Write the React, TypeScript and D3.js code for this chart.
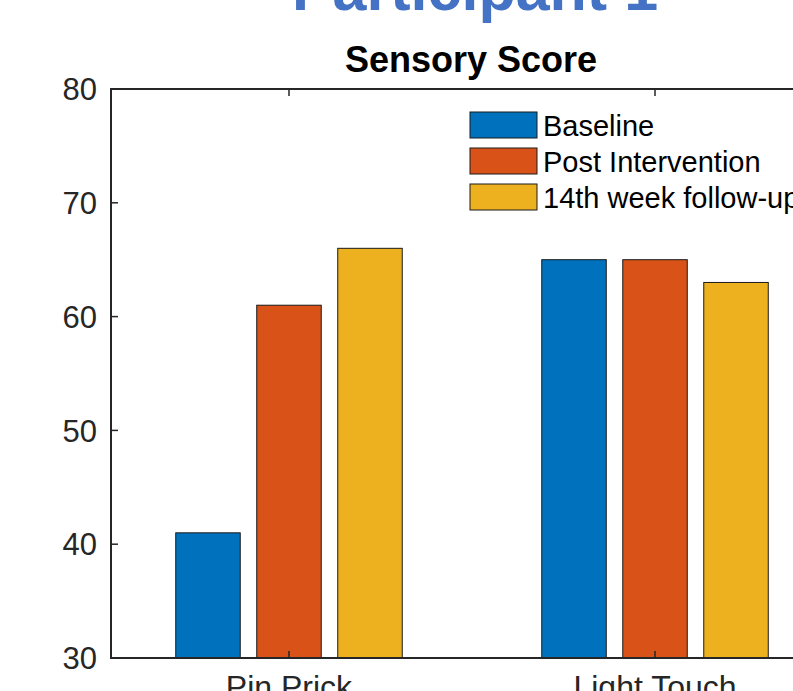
import React from "react";
import * as d3 from "d3";

// Sensory score per test, one array per assessment
const categories = ["Pin Prick", "Light Touch"];
const seriesNames = ["Baseline", "Post Intervention", "14th week follow-up"];
const baseline = [41, 65];
const postIntervention = [61, 65];
const followUp = [66, 63];
const yTicks = [30, 40, 50, 60, 70, 80];
const seriesColors = ["#0072BD", "#D95319", "#EDB120"];

const W = 793;
const H = 691;
const FONT = "'Liberation Sans', Arial, Helvetica, sans-serif";
const AXIS = "#262626";

export default function App() {
  const values = [baseline, postIntervention, followUp];

  const left = 111;
  const right = 833;
  const top = 89;
  const bottom = 658;

  // numeric category positions 1..n, MATLAB-style limits
  const x = d3.scaleLinear().domain([0.5137, 2.4863]).range([left, right]);
  const y = d3.scaleLinear().domain([30, 80]).range([bottom, top]);
  const sub = d3
    .scaleBand<string>()
    .domain(seriesNames)
    .range([-113.25, 113.25])
    .paddingInner(0.2037)
    .paddingOuter(0);

  const tickLen = 7;

  return (
    <svg
      width={W}
      height={H}
      viewBox={`0 0 ${W} ${H}`}
      style={{ position: "absolute", left: 0, top: 0, background: "#fff", overflow: "hidden" }}
      fontFamily={FONT}
    >
      <rect x={0} y={0} width={W} height={H} fill="#fff" />

      {/* figure title */}
      <text x={475} y={10} textAnchor="middle" fontSize={61} fontWeight="bold" fill="#4472C4">
        Participant 1
      </text>
      {/* axes title */}
      <text x={471} y={72} textAnchor="middle" fontSize={36} fontWeight="bold" fill="#000">
        Sensory Score
      </text>

      {/* bars */}
      {categories.map((c, ci) =>
        seriesNames.map((s, si) => {
          const v = values[si][ci];
          const bx = x(ci + 1) + (sub(s) as number);
          return (
            <rect
              key={`${c}-${s}`}
              x={bx}
              y={y(v)}
              width={sub.bandwidth()}
              height={y(30) - y(v)}
              fill={seriesColors[si]}
              stroke="#1a1a1a"
              strokeWidth={1}
            />
          );
        })
      )}

      {/* axes box */}
      <g stroke={AXIS} strokeWidth={2} fill="none">
        <line x1={left} y1={top} x2={right} y2={top} />
        <line x1={left} y1={bottom} x2={right} y2={bottom} />
        <line x1={left} y1={top - 1} x2={left} y2={bottom + 1} />
        <line x1={right} y1={top - 1} x2={right} y2={bottom + 1} />
      </g>

      {/* ticks on all four sides */}
      <g stroke={AXIS} strokeWidth={1.5}>
        {yTicks.map((t) => (
          <g key={t}>
            <line x1={left} x2={left + tickLen} y1={y(t)} y2={y(t)} />
            <line x1={right} x2={right - tickLen} y1={y(t)} y2={y(t)} />
          </g>
        ))}
        {categories.map((c, ci) => (
          <g key={c}>
            <line x1={x(ci + 1)} x2={x(ci + 1)} y1={bottom} y2={bottom - tickLen} />
            <line x1={x(ci + 1)} x2={x(ci + 1)} y1={top} y2={top + tickLen} />
          </g>
        ))}
      </g>

      {yTicks.map((t) => (
        <text
          key={t}
          x={97}
          y={y(t)}
          dy="0.36em"
          textAnchor="end"
          fontSize={31}
          fill={AXIS}
        >
          {t}
        </text>
      ))}

      {categories.map((c, ci) => (
        <text key={c} x={x(ci + 1)} y={698} textAnchor="middle" fontSize={32} fill={AXIS}>
          {c}
        </text>
      ))}

      {/* legend */}
      {seriesNames.map((s, si) => {
        const ry = 112 + si * 36;
        return (
          <g key={s}>
            <rect x={470} y={ry} width={67} height={26} fill={seriesColors[si]} stroke="#1a1a1a" strokeWidth={1} />
            <text x={543} y={ry + 14} dy="0.36em" fontSize={29} fill="#000">
              {s}
            </text>
          </g>
        );
      })}
    </svg>
  );
}
